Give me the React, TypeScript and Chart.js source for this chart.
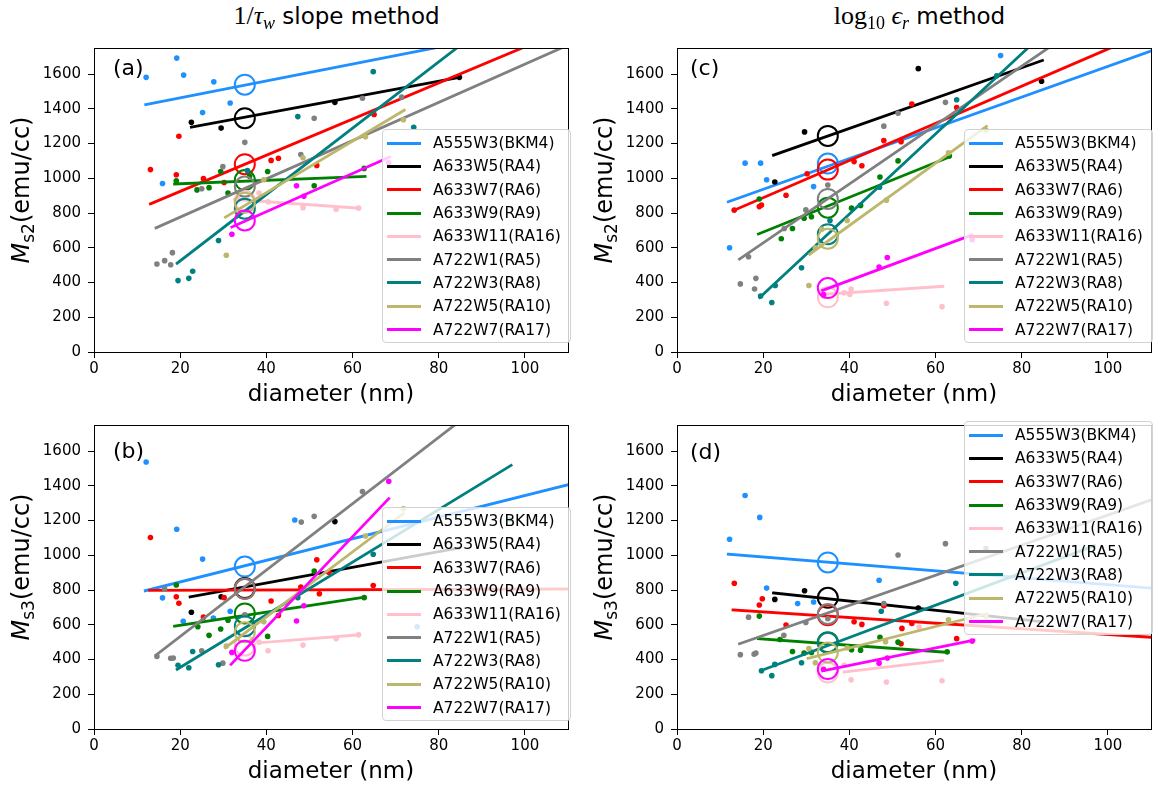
import React, { useEffect, useRef } from 'react';
import { Chart, registerables } from 'chart.js';

Chart.register(...registerables);
Chart.defaults.font.family = "'DejaVu Sans', sans-serif";

// ---------- shared ----------
const names = ['A555W3(BKM4)', 'A633W5(RA4)', 'A633W7(RA6)', 'A633W9(RA9)', 'A633W11(RA16)', 'A722W1(RA5)', 'A722W3(RA8)', 'A722W5(RA10)', 'A722W7(RA17)'];
const colors = ['#1e90ff', '#000000', '#ff0000', '#008000', '#ffc0cb', '#808080', '#008080', '#bdb76b', '#ff00ff'];
const xTicks = [0, 20, 40, 60, 80, 100];
const yTicks = [0, 200, 400, 600, 800, 1000, 1200, 1400, 1600];
const xMax = 110;
const yMax = 1750;
const circleDiameter = 35;

// ---------- panel (a): Ms2, 1/tau_w slope ----------
const aPtsX = [
  [12.1, 15.9, 19.2, 20.8, 25.2, 27.8, 31.6],
  [22.6, 29.5, 55.9, 84.8],
  [13.1, 19.1, 19.7, 25.4, 30.2, 41.1, 42.8, 51.7, 65.0],
  [19.1, 23.9, 26.7, 29.4, 31.1, 36.1, 40.3, 51.1, 62.7],
  [33.3, 38.3, 40.4, 48.5, 56.2, 61.4],
  [14.6, 16.4, 17.8, 18.2, 25.0, 29.9, 35.0, 48.0, 51.1, 62.3, 71.4],
  [19.5, 22.0, 22.9, 28.9, 35.6, 47.3, 64.8, 74.2],
  [30.7, 39.4, 48.5, 63.0, 71.8],
  [32.0, 47.0, 48.7, 68.4],
];
const aPtsY = [
  [1581, 970, 1692, 1594, 1378, 1555, 1433],
  [1322, 1289, 1437, 1581],
  [1050, 1020, 1242, 998, 976, 1103, 1115, 1074, 1367],
  [985, 933, 946, 1039, 915, 1011, 1039, 957, 1057],
  [880, 915, 865, 831, 822, 828],
  [507, 526, 502, 572, 940, 1067, 1207, 1137, 1346, 1461, 1467],
  [411, 424, 465, 642, 1044, 1355, 1614, 1294],
  [557, 992, 1118, 1239, 1337],
  [678, 957, 896, 1091],
];
const aFitX = [[12, 80], [22.6, 84.8], [13.1, 100], [18.7, 62.9], [32.6, 61.4], [14.4, 110], [19.3, 96.8], [30.5, 72], [32, 68.6]];
const aFitY = [[1424, 1755], [1294, 1581], [853, 1757], [967, 1011], [878, 828], [715, 1767], [511, 1991], [776, 1392], [720, 1122]];
const aCircle = [1539, 1346, 1081, 990, 870, 952, 825, 859, 757];

// ---------- panel (b): Ms3, 1/tau_w slope ----------
const bPtsX = [
  [12.1, 15.9, 19.2, 20.7, 25.2, 27.7, 31.6, 46.6, 75.0],
  [22.6, 29.5, 55.9],
  [13.1, 19.1, 19.7, 25.4, 30.2, 41.1, 42.8, 48.0, 51.7, 52.3, 54.5, 64.8],
  [19.1, 24.1, 26.7, 29.4, 31.1, 40.3, 51.1, 62.7],
  [38.3, 40.4, 48.5, 56.2, 61.4],
  [14.6, 16.4, 17.8, 18.4, 25.0, 29.9, 35.0, 48.1, 51.1, 62.3],
  [19.5, 22.0, 22.9, 28.9, 47.3, 64.8, 96.6],
  [30.7, 39.4, 63.0, 71.8],
  [32.0, 47.0, 48.7, 68.4],
];
const bPtsY = [
  [1537, 755, 1150, 620, 978, 639, 678, 1203, 589],
  [672, 761, 1194],
  [1102, 761, 724, 644, 756, 737, 653, 817, 974, 779, 903, 826],
  [829, 589, 539, 576, 626, 533, 909, 756],
  [500, 450, 483, 520, 542],
  [418, 806, 407, 409, 450, 379, 657, 1191, 1224, 1367],
  [367, 353, 446, 370, 756, 1006, 1206],
  [478, 617, 1111, 1268],
  [441, 622, 709, 1426],
];
const bFitX = [[11.9, 110], [22.3, 84.8], [12.9, 110], [18.7, 62.9], [38.3, 61.4], [14.4, 90], [19.3, 96.8], [30.5, 71.8], [31.8, 68.4]];
const bFitY = [[796, 1406], [761, 1042], [798, 806], [592, 759], [496, 542], [426, 1870], [344, 1518], [468, 1240], [372, 1326]];
const bCircle = [935, 811, 807, 665, 480, 807, 592, 557, 450];

// ---------- panel (c): Ms2, log10 eps_r ----------
const cPtsX = [
  [12.2, 15.8, 19.4, 20.8, 31.7, 75.1],
  [22.7, 29.6, 56.0, 84.6],
  [13.3, 19.1, 19.6, 25.3, 30.2, 41.1, 42.9, 48.0, 52.0, 54.5, 64.9],
  [19.1, 24.2, 26.8, 29.5, 31.2, 40.5, 42.6, 47.1, 51.3, 63.2],
  [34.0, 38.8, 40.1, 40.4, 48.6, 61.5],
  [14.7, 16.6, 18.0, 18.3, 24.9, 29.9, 35.0, 48.0, 51.3, 62.3],
  [19.4, 22.0, 22.8, 28.9, 35.5, 47.0, 64.9, 74.2],
  [30.6, 32.1, 33.6, 39.5, 48.6, 63.0, 71.7],
  [34.0, 46.9, 48.8, 68.5],
];
const cPtsY = [
  [600, 1087, 1087, 992, 952, 1707],
  [979, 1267, 1631, 1559],
  [817, 837, 846, 902, 1026, 1096, 1072, 1217, 1211, 1428, 1407],
  [881, 652, 711, 770, 779, 828, 844, 1007, 1100, 1128],
  [322, 341, 331, 363, 281, 261],
  [392, 548, 363, 424, 711, 818, 961, 1300, 1374, 1437],
  [322, 285, 383, 485, 757, 948, 1452, 1590],
  [383, 600, 707, 757, 874, 1146, 1276],
  [330, 489, 544, 646],
];
const cFitX = [[11.9, 110], [22.4, 84.8], [13, 100.7], [18.9, 63.2], [33.6, 61.7], [14.5, 90], [19.2, 90], [30.8, 71.8], [33.8, 68.5]];
const cFitY = [[865, 1733], [1133, 1678], [813, 1752], [679, 1122], [331, 378], [535, 1815], [313, 1948], [563, 1298], [355, 674]];
const cCircle = [1085, 1244, 1050, 831, 315, 881, 678, 652, 368];

// ---------- panel (d): Ms3, log10 eps_r ----------
const dPtsX = [
  [12.2, 15.8, 19.2, 20.8, 28.0, 31.7, 46.9],
  [22.7, 29.6, 56.0],
  [13.3, 19.1, 19.8, 25.3, 41.1, 42.9, 48.0, 52.0, 52.2, 54.5, 64.9],
  [19.1, 23.9, 26.8, 29.5, 31.2, 40.5, 42.6, 47.1, 51.3, 62.7],
  [38.8, 40.4, 48.6, 56.2, 61.5],
  [14.7, 16.6, 17.9, 18.3, 24.8, 29.9, 35.0, 48.0, 51.3, 62.3, 71.7],
  [19.6, 22.0, 22.7, 28.9, 47.4, 64.7],
  [30.6, 32.1, 39.5, 48.4, 63.0, 71.7],
  [34.0, 46.9, 48.8, 68.5],
];
const dPtsY = [
  [1092, 1344, 1218, 811, 722, 731, 856],
  [746, 796, 696],
  [839, 714, 750, 598, 617, 602, 709, 491, 579, 607, 520],
  [650, 515, 446, 437, 441, 456, 454, 528, 500, 444],
  [367, 283, 270, 585, 278],
  [428, 644, 431, 437, 539, 613, 635, 722, 1002, 1067, 1039],
  [335, 307, 372, 381, 678, 839],
  [463, 381, 468, 502, 629, 648],
  [344, 379, 409, 506],
];
const dFitX = [[11.9, 110.2], [22.4, 84.8], [13, 110.2], [18.9, 62.9], [38.8, 61.6], [14.5, 110.2], [19.4, 96.9], [30.4, 71.8], [33.8, 68.9]];
const dFitY = [[1006, 811], [783, 617], [685, 528], [520, 441], [329, 394], [491, 1320], [335, 1056], [407, 663], [335, 511]];
const dCircle = [959, 755, 655, 500, 325, 662, 496, 440, 345];

type PanelCfg = {
  ptsX: number[][]; ptsY: number[][]; fitX: number[][]; fitY: number[][]; circ: number[];
  left: number; top: number; w: number; h: number; padR: number;
};

const framePlugin = {
  id: 'frame',
  afterDatasetsDraw(chart: any) {
    const { ctx, chartArea } = chart;
    const l = Math.floor(chartArea.left) + 0.5;
    const t = Math.floor(chartArea.top) + 0.5;
    const r = Math.floor(chartArea.right) + 0.5;
    const b = Math.floor(chartArea.bottom) + 0.5;
    ctx.save();
    ctx.strokeStyle = '#000';
    ctx.lineWidth = 1;
    ctx.strokeRect(l, t, r - l, b - t);
    ctx.restore();
  },
};

function Panel({ cfg }: { cfg: PanelCfg }) {
  const ref = useRef<HTMLCanvasElement>(null);
  useEffect(() => {
    const datasets: any[] = [];
    let k = 0;
    for (let i = 0; i < names.length; i++) {
      datasets.push({
        label: names[i] + ' data',
        data: cfg.ptsX[i].map((x, j) => ({ x, y: cfg.ptsY[i][j] })),
        pointRadius: 2.8,
        pointHoverRadius: 2.8,
        backgroundColor: colors[i],
        borderWidth: 0,
        showLine: false,
        order: -(k++),
      });
      datasets.push({
        label: names[i] + ' fit',
        data: cfg.fitX[i].map((x, j) => ({ x, y: cfg.fitY[i][j] })),
        showLine: true,
        borderColor: colors[i],
        borderWidth: 2.8,
        borderCapStyle: 'square',
        pointRadius: 0,
        pointHoverRadius: 0,
        fill: false,
        tension: 0,
        order: -(k++),
      });
      datasets.push({
        label: names[i] + ' at 35 nm',
        data: [{ x: circleDiameter, y: cfg.circ[i] }],
        pointRadius: 10,
        pointHoverRadius: 10,
        backgroundColor: 'rgba(0,0,0,0)',
        borderColor: colors[i],
        borderWidth: 2,
        showLine: false,
        order: -(k++),
      });
    }
    const chart = new Chart(ref.current as HTMLCanvasElement, {
      type: 'scatter',
      data: { datasets },
      options: {
        animation: false,
        responsive: false,
        events: [],
        layout: { padding: { left: 0, top: 5, right: cfg.padR, bottom: 0 } },
        plugins: { legend: { display: false }, tooltip: { enabled: false } },
        scales: {
          x: {
            type: 'linear',
            min: 0,
            max: xMax,
            afterBuildTicks: (s: any) => { s.ticks = xTicks.map((v) => ({ value: v })); },
            afterFit: (s: any) => { s.height = 60; },
            ticks: { color: '#000', padding: 2, font: { size: 15 }, callback: (v: any) => String(v) },
            grid: { drawOnChartArea: false, drawTicks: true, tickLength: 6, tickColor: '#000' },
            border: { display: true, color: '#000', width: 1 },
            title: { display: true, text: 'diameter (nm)', color: '#000', font: { size: 23 }, padding: { top: 0, bottom: 3 } },
          },
          y: {
            type: 'linear',
            min: 0,
            max: yMax,
            afterBuildTicks: (s: any) => { s.ticks = yTicks.map((v) => ({ value: v })); },
            afterFit: (s: any) => { s.width = 60; },
            ticks: { color: '#000', padding: 7, font: { size: 15 }, callback: (v: any) => String(v) },
            grid: { drawOnChartArea: false, drawTicks: true, tickLength: 6, tickColor: '#000' },
            border: { display: true, color: '#000', width: 1 },
          },
        },
      } as any,
      plugins: [framePlugin],
    });
    return () => chart.destroy();
  }, [cfg]);
  return (
    <canvas
      ref={ref}
      width={cfg.w}
      height={cfg.h}
      style={{ position: 'absolute', left: cfg.left, top: cfg.top, width: cfg.w, height: cfg.h }}
    />
  );
}

function Legend({ left, top }: { left: number; top: number }) {
  return (
    <div
      style={{
        position: 'absolute', left, top, width: 189, height: 214, boxSizing: 'border-box',
        border: '1px solid #d2d2d2', borderRadius: 4, background: 'rgba(255,255,255,0.8)', paddingTop: 1.5,
      }}
    >
      {names.map((n, i) => (
        <div key={n} style={{ height: 23.3, display: 'flex', alignItems: 'center' }}>
          <div style={{ marginLeft: 4, width: 34, height: 3, background: colors[i] }} />
          <span style={{ marginLeft: 12, fontSize: 15.5, fontFamily: "'DejaVu Sans', sans-serif", color: '#000', whiteSpace: 'nowrap', lineHeight: '18px' }}>{n}</span>
        </div>
      ))}
    </div>
  );
}

function YLabel({ cx, cy, sub }: { cx: number; cy: number; sub: string }) {
  return (
    <div
      style={{
        position: 'absolute', left: cx, top: cy, transform: 'translate(-50%, -50%) rotate(-90deg)',
        fontFamily: "'DejaVu Sans', sans-serif", fontSize: 24, whiteSpace: 'nowrap', color: '#000', lineHeight: '30px',
      }}
    >
      <span style={{ fontStyle: 'italic' }}>M</span>
      <span style={{ fontSize: 17, position: 'relative', top: 5 }}>{sub}</span>
      <span>(emu/cc)</span>
    </div>
  );
}

function PanelLabel({ left, top, text }: { left: number; top: number; text: string }) {
  return (
    <div style={{ position: 'absolute', left, top, fontFamily: "'DejaVu Sans', sans-serif", fontSize: 22, lineHeight: '28px', color: '#000' }}>{text}</div>
  );
}

const serif = "'Liberation Serif', 'DejaVu Serif', serif";

const cfgA: PanelCfg = { ptsX: aPtsX, ptsY: aPtsY, fitX: aFitX, fitY: aFitY, circ: aCircle, left: 34, top: 32, w: 546, h: 380, padR: 1 };
const cfgB: PanelCfg = { ptsX: bPtsX, ptsY: bPtsY, fitX: bFitX, fitY: bFitY, circ: bCircle, left: 34, top: 409, w: 546, h: 380, padR: 1 };
const cfgC: PanelCfg = { ptsX: cPtsX, ptsY: cPtsY, fitX: cFitX, fitY: cFitY, circ: cCircle, left: 617, top: 32, w: 546, h: 380, padR: 1 };
const cfgD: PanelCfg = { ptsX: dPtsX, ptsY: dPtsY, fitX: dFitX, fitY: dFitY, circ: dCircle, left: 617, top: 409, w: 546, h: 380, padR: 1 };

export default function App() {
  return (
    <div style={{ position: 'absolute', left: 0, top: 0, width: 1163, height: 790, background: '#fff', overflow: 'hidden' }}>
      <Panel cfg={cfgA} />
      <Panel cfg={cfgB} />
      <Panel cfg={cfgC} />
      <Panel cfg={cfgD} />

      <div style={{ position: 'absolute', left: 94, width: 485, top: 2, textAlign: 'center', fontSize: 23, lineHeight: '28px', color: '#000', fontFamily: "'DejaVu Sans', sans-serif", whiteSpace: 'nowrap' }}>
        <span style={{ fontFamily: serif, fontSize: 26 }}>1/<i>τ</i><i style={{ fontSize: 18, position: 'relative', top: 5 }}>w</i></span> slope method
      </div>
      <div style={{ position: 'absolute', left: 677, width: 485, top: 2, textAlign: 'center', fontSize: 23, lineHeight: '28px', color: '#000', fontFamily: "'DejaVu Sans', sans-serif", whiteSpace: 'nowrap' }}>
        <span style={{ fontFamily: serif, fontSize: 26 }}>log<span style={{ fontSize: 18, position: 'relative', top: 5 }}>10</span> <i>ϵ</i><i style={{ fontSize: 18, position: 'relative', top: 5 }}>r</i></span> method
      </div>

      <YLabel cx={22} cy={190} sub="s2" />
      <YLabel cx={22} cy={567} sub="s3" />
      <YLabel cx={605} cy={190} sub="s2" />
      <YLabel cx={605} cy={567} sub="s3" />

      <PanelLabel left={113} top={53.5} text="(a)" />
      <PanelLabel left={113} top={437} text="(b)" />
      <PanelLabel left={690} top={53.5} text="(c)" />
      <PanelLabel left={690} top={437.5} text="(d)" />

      <Legend left={382} top={129} />
      <Legend left={382} top={507} />
      <Legend left={964} top={129} />
      <Legend left={964} top={421} />
    </div>
  );
}
